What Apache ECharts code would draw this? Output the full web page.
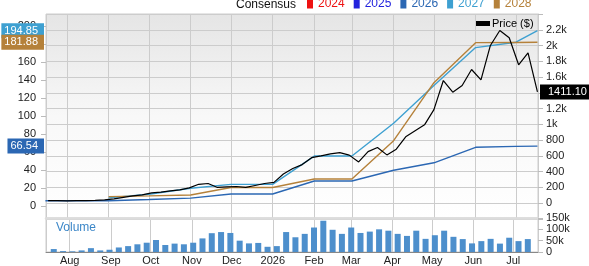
<!DOCTYPE html>
<html><head><meta charset="utf-8">
<script src="https://cdn.jsdelivr.net/npm/echarts@6/dist/echarts.min.js"></script>
<style>html,body{margin:0;padding:0;background:#fff}#c{width:589px;height:266px}</style>
</head><body><div id="c"></div>
<script>
// ---- data ----
const priceDates = ['2025-07-18','2025-07-25','2025-08-01','2025-08-08','2025-08-15','2025-08-22','2025-08-29',
 '2025-09-05','2025-09-12','2025-09-19','2025-09-26','2025-10-03','2025-10-10','2025-10-17','2025-10-24','2025-10-31',
 '2025-11-07','2025-11-14','2025-11-21','2025-11-28','2025-12-05','2025-12-12','2025-12-19','2025-12-26',
 '2026-01-02','2026-01-09','2026-01-16','2026-01-23','2026-01-30','2026-02-06','2026-02-13','2026-02-20','2026-02-27',
 '2026-03-06','2026-03-13','2026-03-20','2026-03-27','2026-04-03','2026-04-10','2026-04-17','2026-04-24',
 '2026-05-01','2026-05-08','2026-05-15','2026-05-22','2026-05-29','2026-06-05','2026-06-12','2026-06-19','2026-06-26',
 '2026-07-03','2026-07-10','2026-07-17'];
const priceValues = [33,32,31,33,34,36,42,
 55,74,93,105,131,140,156,169,194,
 240,250,200,208,212,200,225,250,
 265,370,440,490,578,600,625,642,610,
 524,655,706,613,686,842,918,994,
 1188,1556,1409,1493,1696,1565,2001,2191,2099,
 1756,1908,1411.10];
const volumeDates = ['2025-07-20','2025-07-27','2025-08-03','2025-08-10','2025-08-17','2025-08-24','2025-08-31',
 '2025-09-07','2025-09-14','2025-09-21','2025-09-28','2025-10-05','2025-10-12','2025-10-19','2025-10-26',
 '2025-11-02','2025-11-09','2025-11-16','2025-11-23','2025-11-30','2025-12-07','2025-12-14','2025-12-21','2025-12-28',
 '2026-01-04','2026-01-11','2026-01-18','2026-01-25','2026-02-01','2026-02-08','2026-02-15','2026-02-22',
 '2026-03-01','2026-03-08','2026-03-15','2026-03-22','2026-03-29','2026-04-05','2026-04-12','2026-04-19','2026-04-26',
 '2026-05-03','2026-05-10','2026-05-17','2026-05-24','2026-05-31','2026-06-07','2026-06-14','2026-06-21','2026-06-28',
 '2026-07-05','2026-07-12'];
const volumeValues = [13,4,3,7,17,7,10,
 20,26,34,41,53,31,37,34,
 41,60,83,88,84,50,38,40,23,
 26,88,65,80,108,138,98,80,
 108,84,90,100,94,80,71,94,
 58,74,94,67,57,38,48,58,37,
 63,48,57];
const consensusDates = ['2025-07-16','2025-08-01','2025-09-01','2025-10-01','2025-11-01','2025-12-01',
 '2026-01-01','2026-02-01','2026-03-01','2026-04-01','2026-05-01','2026-06-01','2026-07-01','2026-07-17'];
const eps2026 = [5.9,5.9,5.9,7.2,8.7,13.3,13.3,27.8,27.8,39.7,48,65.2,66.2,66.54];
const eps2027 = [null,null,9,13,19.7,24,24,55.5,55.5,92,134,176,182,194.85];
const eps2028 = [null,null,10.4,11.2,12.2,20.5,20.5,30,30,72.6,137,181.5,181.7,181.88];
const consensusYears = ['2024','2025','2026','2027','2028'];
const consensusColors = ['#ee1111','#2222dd','#2b67b3','#3ea0d1','#b5813a'];
const epsByYear = {'2024':[], '2025':[], '2026':eps2026, '2027':eps2027, '2028':eps2028};

// ---- helpers ----
const FONT = '"Liberation Sans", Arial, sans-serif';
const xMin = Date.parse('2025-07-16T10:00:00');
const xMax = Date.parse('2026-07-17T10:00:00');
const DAY = 864e5;
const pairs = (d, v) => d.map((x, i) => [x, v[i]]);

function timeAxis(gridIndex, extra) {
  return Object.assign({
    type: 'time', gridIndex, min: xMin, max: xMax,
    minInterval: 28 * DAY, maxInterval: 31 * DAY,
    axisLine: {show: false}, axisTick: {show: false}, axisLabel: {show: false},
    splitLine: {show: false}
  }, extra);
}

function tag(value, bg, pos) {
  return {
    silent: true, symbol: 'none', animation: false,
    lineStyle: {color: 'rgba(0,0,0,0)', width: 1, type: 'solid'},
    emphasis: {disabled: true},
    data: [{yAxis: value}],
    label: {
      show: true, position: pos, formatter: p => Number(p.value).toFixed(2),
      backgroundColor: bg, color: '#fff', fontFamily: FONT, fontSize: 11, opacity: 1,
      padding: pos === 'start' ? [2, 6, 2, 3] : [2, 3, 2, 8], distance: 2, lineHeight: 11
    }
  };
}

const series = [];
series.push({
  name: 'Price ($)', type: 'line', xAxisIndex: 0, yAxisIndex: 1,
  data: pairs(priceDates, priceValues), symbol: 'none',
  color: '#000', lineStyle: {width: 1.2, color: '#000'}, z: 5,
  markLine: tag(priceValues[priceValues.length - 1], '#000', 'end')
});
consensusYears.forEach((y, i) => {
  const vals = epsByYear[y];
  const s = {
    name: y, type: 'line', xAxisIndex: 1, yAxisIndex: 0,
    data: pairs(consensusDates.slice(0, vals.length), vals), symbol: 'none',
    color: consensusColors[i], lineStyle: {width: 1.4, color: consensusColors[i]}, z: 3
  };
  if (vals.length) s.markLine = tag(vals[vals.length - 1], consensusColors[i], 'start');
  series.push(s);
});
series.push({
  name: 'Volume', type: 'bar', xAxisIndex: 2, yAxisIndex: 2,
  data: pairs(volumeDates, volumeValues), barWidth: 6,
  itemStyle: {color: '#4d8fcc'}
});

const option = {
  animation: false,
  textStyle: {fontFamily: FONT},
  title: [
    {text: 'Consensus', left: 236, top: -1, padding: 0,
     textStyle: {fontSize: 12, fontWeight: 'normal', color: '#111', fontFamily: FONT}},
    {text: 'Volume', left: 56, top: 222, padding: 0,
     textStyle: {fontSize: 12, fontWeight: 'normal', color: '#3c87c8', fontFamily: FONT}}
  ],
  legend: [
    {data: consensusYears.map((y, i) => ({name: y, textStyle: {color: consensusColors[i]}})),
     left: 307, top: -2, padding: 0, icon: 'rect', itemWidth: 6, itemHeight: 9, itemGap: 9,
     selectedMode: false, textStyle: {fontSize: 12, fontFamily: FONT}},
    {data: ['Price ($)'], left: 476, top: 18, padding: 0, icon: 'rect', itemWidth: 14, itemHeight: 5,
     selectedMode: false, textStyle: {fontSize: 11, color: '#000', fontFamily: FONT, padding: [0, 0, 0, -3]}}
  ],
  grid: [
    {left: 46, right: 51, top: 14, height: 205, show: true, borderColor: '#ccc', borderWidth: 1,
     backgroundColor: {type: 'linear', x: 0, y: 0, x2: 0, y2: 1,
       colorStops: [{offset: 0, color: '#e5e5e5'}, {offset: 0.5, color: '#f8f8f8'}, {offset: 1, color: '#ffffff'}]}},
    {left: 46, right: 51, top: 26, height: 180},
    {left: 46, right: 51, top: 218, height: 35, show: true, borderColor: '#ccc', borderWidth: 1}
  ],
  xAxis: [
    timeAxis(0, {splitLine: {show: true, lineStyle: {color: '#ccc', width: 1}}}),
    timeAxis(1, {}),
    timeAxis(2, {
      splitLine: {show: true, lineStyle: {color: '#ccc', width: 1}},
      axisLine: {show: true, lineStyle: {color: '#888', width: 1}},
      axisLabel: {show: true, fontSize: 11, color: '#222', margin: 3, fontFamily: FONT,
        showMinLabel: false, showMaxLabel: false,
        formatter: {year: '{yyyy}', month: '{MMM}', day: '', hour: '', minute: ''}}
    }),
    timeAxis(2, {position: 'top', axisLine: {show: true, lineStyle: {color: '#dcdcdc', width: 2.5}}})
  ],
  yAxis: [
    {type: 'value', gridIndex: 1, position: 'left', min: 0, max: 200, interval: 20,
     axisLine: {show: false}, axisTick: {show: true, length: 5, lineStyle: {color: '#bbb'}},
     axisLabel: {fontSize: 11, color: '#222', margin: 10, fontFamily: FONT}, splitLine: {show: false}},
    {type: 'value', gridIndex: 0, position: 'right', min: -200, max: 2400, interval: 200,
     axisLine: {show: true, lineStyle: {color: '#ccc'}}, axisTick: {show: true, length: 5, lineStyle: {color: '#bbb'}},
     axisLabel: {fontSize: 11, color: '#222', margin: 8, fontFamily: FONT,
       formatter: v => (v < 0 || v >= 2400) ? '' : (v >= 1000 ? (v / 1000) + 'k' : String(v))},
     splitLine: {show: true, lineStyle: {color: '#ccc', width: 1}}},
    {type: 'value', gridIndex: 2, position: 'right', min: 0, max: 150, interval: 50,
     axisLine: {show: false}, axisTick: {show: true, length: 5, lineStyle: {color: '#bbb'}},
     axisLabel: {fontSize: 11, color: '#222', margin: 8, fontFamily: FONT,
       formatter: v => v === 0 ? '0' : v + 'k'},
     splitLine: {show: false}}
  ],
  series
};
const chart = echarts.init(document.getElementById('c'), null, {renderer: 'canvas'});
chart.setOption(option);
</script>
</body></html>
